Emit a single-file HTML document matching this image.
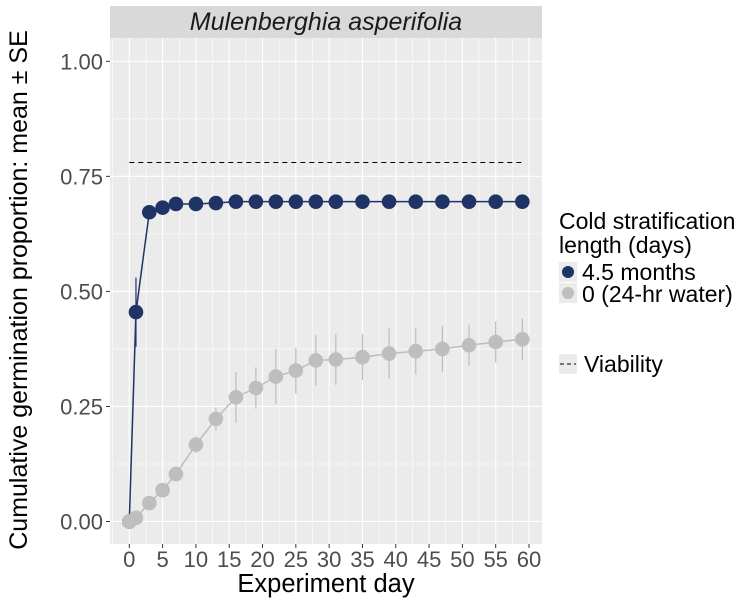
<!DOCTYPE html>
<html><head><meta charset="utf-8"><style>
html,body{margin:0;padding:0;background:#fff}
svg{display:block;font-family:"Liberation Sans",sans-serif}
</style></head><body>
<svg id="chart" width="754" height="603" viewBox="0 0 754 603">
<rect x="110" y="6" width="432" height="32" fill="#d9d9d9"/>
<text x="326" y="30" text-anchor="middle" font-size="25" font-style="italic" fill="#1a1a1a">Mulenberghia asperifolia</text>
<rect x="110" y="38" width="432" height="506" fill="#ebebeb"/>
<g id="grid"></g>
<g id="marks"></g>
<g id="axes"></g>
<text x="326" y="592" text-anchor="middle" font-size="25.5" fill="#000">Experiment day</text>
<text transform="translate(27,290) rotate(-90)" text-anchor="middle" font-size="25" fill="#000">Cumulative germination proportion: mean ± SE</text>
<g>
<text x="559" y="229" font-size="23" fill="#000">Cold stratification</text>
<text x="559" y="253" font-size="23" fill="#000">length (days)</text>
<rect x="559" y="262" width="18" height="20" fill="#ebebeb"/>
<circle cx="568" cy="272" r="6" fill="#1f3366"/>
<text x="582" y="280" font-size="23" fill="#000">4.5 months</text>
<rect x="559" y="283" width="18" height="20" fill="#ebebeb"/>
<circle cx="568" cy="293" r="6" fill="#bebebe"/>
<text x="582" y="302" font-size="23" fill="#000">0 (24-hr water)</text>
<rect x="559" y="354" width="18" height="20" fill="#ebebeb"/>
<line x1="560" y1="364" x2="576" y2="364" stroke="#000" stroke-width="1" stroke-dasharray="4,3"/>
<text x="584" y="372" font-size="23" fill="#000">Viability</text>
</g>
</svg>
<script>
const days = [0,1,3,5,7,10,13,16,19,22,25,28,31,35,39,43,47,51,55,59];
const coldMean = [0,0.455,0.672,0.682,0.69,0.69,0.692,0.695,0.695,0.695,0.695,0.695,0.695,0.695,0.695,0.695,0.695,0.695,0.695,0.695];
const coldSE = [0,0.075,0.005,0.004,0.003,0.003,0.003,0.003,0.003,0.003,0.003,0.003,0.003,0.003,0.003,0.003,0.003,0.003,0.003,0.003];
const waterMean = [0,0.008,0.04,0.068,0.103,0.167,0.223,0.27,0.29,0.315,0.328,0.35,0.352,0.357,0.365,0.37,0.375,0.383,0.39,0.396];
const waterSE = [0,0.003,0.008,0.01,0.012,0.018,0.025,0.055,0.045,0.06,0.05,0.055,0.055,0.05,0.055,0.05,0.05,0.045,0.045,0.045];
const viability = [0.78];
const viabilityRange = [0,59];
const xTicks = [0,5,10,15,20,25,30,35,40,45,50,55,60];
const yTicks = [0,0.25,0.5,0.75,1.0];
const yTickLabels = ["0.00","0.25","0.50","0.75","1.00"];

const NS="http://www.w3.org/2000/svg";
const X = d => 129.3 + d*(529-129.3)/60;
const Y = v => 521.5 - v*460.2;
function mk(tag, attrs, parent){const e=document.createElementNS(NS,tag);for(const k in attrs)e.setAttribute(k,attrs[k]);parent.appendChild(e);return e;}
const grid=document.getElementById('grid'), marks=document.getElementById('marks'), axes=document.getElementById('axes');

for(let d=-2.5; d<=62.5; d+=2.5){const x=X(d); if(x<110||x>542)continue;
  const major = Math.abs(d%5)<1e-9;
  const l=mk('line',{x1:x,x2:x,y1:38,y2:544,stroke:'#fff','stroke-width':major?1.1:0.55},grid);
  
  }
for(let v=-0.125; v<=1.125; v+=0.125){const y=Y(v); if(y<38||y>544)continue;
  const major = Math.abs((v/0.25)-Math.round(v/0.25))<1e-9;
  const l=mk('line',{x1:110,x2:542,y1:y,y2:y,stroke:'#fff','stroke-width':major?1.1:0.55},grid);
  
  }

const vl=mk('line',{x1:X(viabilityRange[0]),x2:X(viabilityRange[1]),y1:Y(viability[0]),y2:Y(viability[0]),stroke:'#000','stroke-width':1,'stroke-dasharray':'5,4'},marks);



function series(mean, se, color, lineColor, name){
  for(let i=0;i<days.length;i++){
    const e=mk('line',{x1:X(days[i]),x2:X(days[i]),y1:Y(mean[i]-se[i]),y2:Y(mean[i]+se[i]),stroke:lineColor,'stroke-width':1.2},marks);
    
    
  }
  const p=mk('polyline',{points:days.map((d,i)=>X(d)+','+Y(mean[i])).join(' '),fill:'none',stroke:lineColor,'stroke-width':1.5},marks);
  
  
  for(let i=0;i<days.length;i++){
    const c=mk('circle',{cx:X(days[i]),cy:Y(mean[i]),r:7.3,fill:color},marks);
    
    
  }
}
series(coldMean, coldSE, '#1f3366', '#1f3366', 'cold-series');
series(waterMean, waterSE, '#bebebe', '#bdbdbd', 'water-series');

xTicks.forEach(t=>{const x=X(t);
  const l=mk('line',{x1:x,x2:x,y1:544,y2:548,stroke:'#333','stroke-width':1},axes);
  
  
  const tx=mk('text',{x:x,y:567,'text-anchor':'middle','font-size':22,fill:'#4d4d4d'},axes);
  tx.textContent=t;
  
  });
yTicks.forEach((t,i)=>{const y=Y(t);
  const l=mk('line',{x1:106,x2:110,y1:y,y2:y,stroke:'#333','stroke-width':1},axes);
  
  
  const tx=mk('text',{x:103,y:y+8,'text-anchor':'end','font-size':22,fill:'#4d4d4d'},axes);
  tx.textContent=yTickLabels[i];
  
  });
</script>
</body></html>
